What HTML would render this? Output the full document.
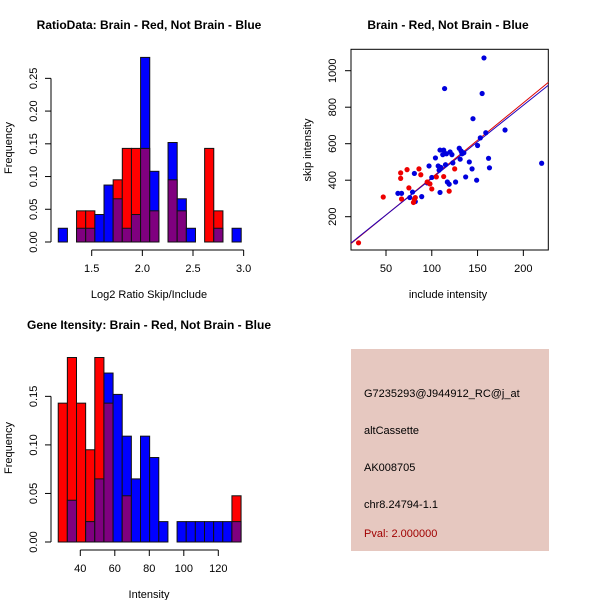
<!DOCTYPE html>
<html><head><meta charset="utf-8"><style>
body{margin:0;background:#fff}
svg{display:block;font-family:"Liberation Sans",sans-serif}
.t{font-weight:bold;font-size:12px}
.l{font-size:11px}
</style></head><body>
<svg id="s" width="600" height="600">
<rect x="351" y="349" width="198" height="202" fill="#e6c8c0"/>
<g class="l">
<text x="364" y="397">G7235293@J944912_RC@j_at</text>
<text x="364" y="434">altCassette</text>
<text x="364" y="471">AK008705</text>
<text x="364" y="508">chr8.24794-1.1</text>
<text x="364" y="537" fill="#a00000">Pval: 2.000000</text>
</g>
</svg>
<script>
// Ratio histogram data
const ratioStart = 1.17, ratioWidth = 0.0903;
const ratioBlue = [0.021,0,0.021,0.021,0.042,0.087,0.066,0.021,0.042,0.282,0.108,0,0.152,0.066,0.021,0,0,0.021,0,0.021];
const ratioRed  = [0,0,0.0476,0.0476,0,0,0.095,0.143,0.143,0.143,0.0476,0,0.095,0.0476,0,0,0.143,0.0476,0,0];
const ratioXTicks = [1.5,2.0,2.5,3.0];
const ratioXLabels = ["1.5","2.0","2.5","3.0"];
const ratioYTicks = [0,0.05,0.10,0.15,0.20,0.25];
const ratioYLabels = ["0.00","0.05","0.10","0.15","0.20","0.25"];
// Intensity histogram data
const intStart = 27.2, intWidth = 5.3;
const intBlue = [0,0.043,0,0.021,0.065,0.174,0.152,0.109,0.065,0.109,0.087,0.021,0,0.021,0.021,0.021,0.021,0.021,0.021,0.021];
const intRed  = [0.143,0.190,0.143,0.095,0.190,0.143,0,0.0476,0,0,0,0,0,0,0,0,0,0,0,0.0476];
const intXTicks = [40,60,80,100,120];
const intYTicks = [0,0.05,0.10,0.15];
const intYLabels = ["0.00","0.05","0.10","0.15"];
// Scatter data
const blueX = [63,67,76,79,81,82,89,97,95,100,104,107,109,109,110,112,113,114,115,116,117,119,122,123,126,130,131,132,135,137,141,144,145,149,150,153,155,157,159,162,163,180,220,108,120,133];
const blueY = [328,328,305,335,437,283,310,478,385,415,522,478,333,565,470,540,565,902,485,545,390,378,540,495,390,575,515,560,550,418,500,462,737,400,590,632,875,1070,660,520,468,675,493,455,555,545];
const redX = [20,47,66,66,67,73,75,80,82,86,88,95,98,100,105,113,119,125,81];
const redY = [57,308,440,410,297,458,358,278,305,462,430,390,380,352,418,420,340,462,295];
const blueFit = [8.9,4.01];
const redFit = [4,4.1];
const scXTicks = [50,100,150,200];
const scYTicks = [200,400,600,800,1000];

const svg=document.getElementById('s');
const NS='http://www.w3.org/2000/svg';
function mk(tag,attrs,name,parent){const e=document.createElementNS(NS,tag);for(const k in attrs)e.setAttribute(k,attrs[k]);


(parent||svg).appendChild(e);return e;}
function txt(x,y,s,cls,name,rot,anchor){const e=mk('text',{x:x,y:y,'text-anchor':anchor||'middle',class:cls},name);if(rot)e.setAttribute('transform','rotate(-90 '+x+' '+y+')');e.textContent=s;return e;}

function hist(start,w,blue,red,sx,sy,pref){
  for(let i=0;i<blue.length;i++){
    const x0=sx(start+i*w),x1=sx(start+(i+1)*w);
    const b=blue[i],r=red[i],mx=Math.max(b,r),mn=Math.min(b,r);
    if(mx>0){const r1=mk('rect',{x:x0,y:sy(mx),width:x1-x0,height:sy(0)-sy(mx),fill:b>=r?'#0000ff':'#ff0000',stroke:'#111','stroke-width':1},pref+'-bar-'+i);}
    if(mn>0){mk('rect',{x:x0,y:sy(mn),width:x1-x0,height:sy(0)-sy(mn),fill:'#7f007f',stroke:'#111','stroke-width':1},pref+'-overlap-bar-'+i);}
  }
}
function axes(xt,xl,yt,yl,sx,sy,xAxisY,yAxisX,pref){
  mk('line',{x1:sx(xt[0]),x2:sx(xt[xt.length-1]),y1:xAxisY,y2:xAxisY,stroke:'#000'},pref+'-x-axis');
  xt.forEach((v,i)=>{mk('line',{x1:sx(v),x2:sx(v),y1:xAxisY,y2:xAxisY+6,stroke:'#000'},pref+'-x-tick');
    txt(sx(v),xAxisY+22,xl[i],'l',pref+'-x-tick-label');});
  mk('line',{x1:yAxisX,x2:yAxisX,y1:sy(yt[0]),y2:sy(yt[yt.length-1]),stroke:'#000'},pref+'-y-axis');
  yt.forEach((v,i)=>{mk('line',{x1:yAxisX-6,x2:yAxisX,y1:sy(v),y2:sy(v),stroke:'#000'},pref+'-y-tick');
    txt(yAxisX-14,sy(v),yl[i],'l',pref+'-y-tick-label',true);});
}
// Plot 1
{const sx=v=>91.7+(v-1.5)*101.3, sy=v=>242-v*654.6;
hist(ratioStart,ratioWidth,ratioBlue,ratioRed,sx,sy,'ratio');
axes(ratioXTicks,ratioXLabels,ratioYTicks,ratioYLabels,sx,sy,250,51,'ratio');
txt(149,29,'RatioData: Brain - Red, Not Brain - Blue','t','ratio-title');
txt(149,298,'Log2 Ratio Skip/Include','l','ratio-x-title');
txt(12,148,'Frequency','l','ratio-y-title',true);}
// Plot 3
{const sx=v=>80.3+(v-40)*1.725, sy=v=>542-v*971;
hist(intStart,intWidth,intBlue,intRed,sx,sy,'intensity');
axes(intXTicks,intXTicks.map(String),intYTicks,intYLabels,sx,sy,550,51,'intensity');
txt(149,329,'Gene Itensity: Brain - Red, Not Brain - Blue','t','intensity-title');
txt(149,598,'Intensity','l','intensity-x-title');
txt(12,448,'Frequency','l','intensity-y-title',true);}
// Plot 2
{const sx=v=>386+(v-50)*0.9156, sy=v=>216.7-(v-200)*0.1825;
mk('rect',{x:351,y:49.3,width:197.3,height:200.7,fill:'none',stroke:'#000'},'scatter-box');
const cp=mk('clipPath',{id:'c'},'scatter-clip');mk('rect',{x:351,y:49.3,width:197.3,height:200.7},'scatter-clip-rect',cp);
const g=mk('g',{'clip-path':'url(#c)'},'scatter-plot-area');
const x0=10,x1=240;
mk('line',{x1:sx(x0),y1:sy(redFit[0]+redFit[1]*x0),x2:sx(x1),y2:sy(redFit[0]+redFit[1]*x1),stroke:'#dd0000'},'red-fit-line',g);
mk('line',{x1:sx(x0),y1:sy(blueFit[0]+blueFit[1]*x0),x2:sx(x1),y2:sy(blueFit[0]+blueFit[1]*x1),stroke:'#2200bb'},'blue-fit-line',g);
blueX.forEach((v,i)=>mk('circle',{cx:sx(v),cy:sy(blueY[i]),r:2.6,fill:'#0000dd'},'blue-point',g));
redX.forEach((v,i)=>mk('circle',{cx:sx(v),cy:sy(redY[i]),r:2.6,fill:'#ee0000'},'red-point',g));
scXTicks.forEach(v=>{mk('line',{x1:sx(v),x2:sx(v),y1:250,y2:256,stroke:'#000'},'scatter-x-tick');txt(sx(v),272,String(v),'l','scatter-x-tick-label');});
scYTicks.forEach(v=>{mk('line',{x1:345,x2:351,y1:sy(v),y2:sy(v),stroke:'#000'},'scatter-y-tick');txt(336,sy(v),String(v),'l','scatter-y-tick-label',true);});
txt(448,29,'Brain - Red, Not Brain - Blue','t','scatter-title');
txt(448,298,'include intensity','l','scatter-x-title');
txt(311,150,'skip intensity','l','scatter-y-title',true);}
</script>
</body></html>
